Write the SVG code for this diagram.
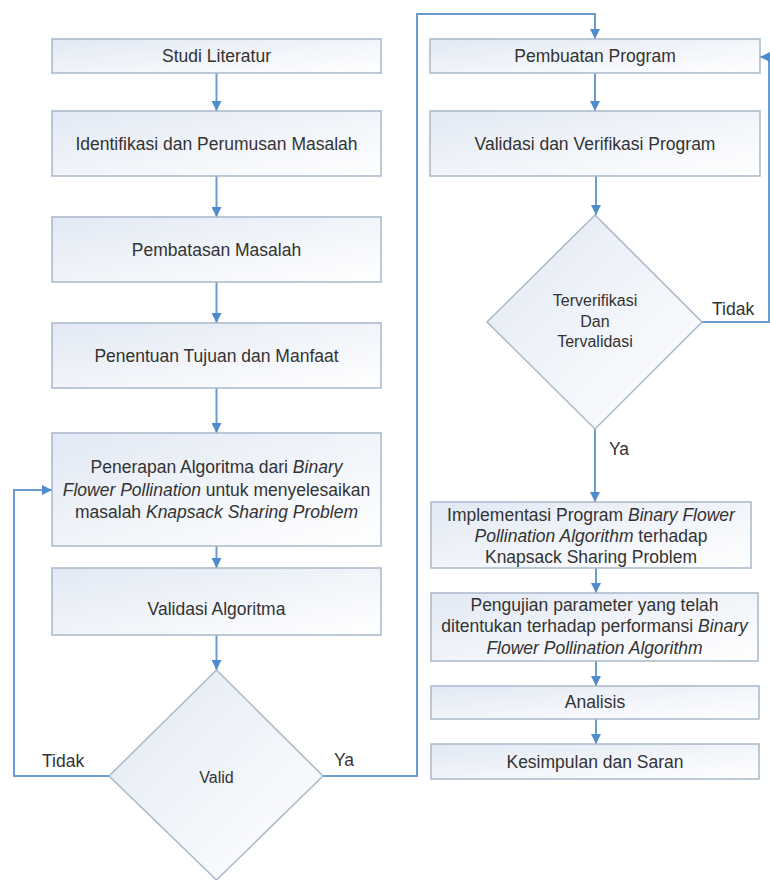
<svg xmlns="http://www.w3.org/2000/svg" width="770" height="880" viewBox="0 0 770 880">
<defs>
<linearGradient id="g" x1="0" y1="0" x2="1" y2="1">
<stop offset="0" stop-color="#e2e9f4"/>
<stop offset="1" stop-color="#ffffff"/>
</linearGradient>
<marker id="ah" viewBox="0 0 10 10" refX="10" refY="5" markerWidth="10" markerHeight="10" markerUnits="userSpaceOnUse" orient="auto">
<path d="M0,0 L10,5 L0,10 Z" fill="#4f8ccb"/>
</marker>
<style>
.box{fill:url(#g);stroke:#a9b8ca;stroke-width:1.5}
.t{font-family:"Liberation Sans",Arial,sans-serif;font-size:17.5px;fill:#333;text-anchor:middle}
.s{font-family:"Liberation Sans",Arial,sans-serif;font-size:16px;fill:#333;text-anchor:middle}
.l{font-family:"Liberation Sans",Arial,sans-serif;font-size:17.5px;fill:#333}
.c{fill:none;stroke:#6a9ccf;stroke-width:2}
.i{font-style:italic}
</style>
</defs>
<rect width="770" height="880" fill="#ffffff"/>
<g id="connectors">
<path class="c" d="M216.5,73 V111" marker-end="url(#ah)"/>
<path class="c" d="M216.5,176 V217" marker-end="url(#ah)"/>
<path class="c" d="M216.5,282 V323" marker-end="url(#ah)"/>
<path class="c" d="M216.5,388 V433" marker-end="url(#ah)"/>
<path class="c" d="M216.5,546 V568" marker-end="url(#ah)"/>
<path class="c" d="M216.5,635 V670" marker-end="url(#ah)"/>
<path class="c" d="M109,776 H14 V490 H52" marker-end="url(#ah)"/>
<path class="c" d="M323,776 H417 V14 H595 V39" marker-end="url(#ah)"/>
<path class="c" d="M595,73 V111" marker-end="url(#ah)"/>
<path class="c" d="M596,176 V215" marker-end="url(#ah)"/>
<path class="c" d="M702,322 H769 V57 H760" marker-end="url(#ah)"/>
<path class="c" d="M595,429 V502" marker-end="url(#ah)"/>
<path class="c" d="M596,568 V593" marker-end="url(#ah)"/>
<path class="c" d="M596,661 V686" marker-end="url(#ah)"/>
<path class="c" d="M596,719 V744" marker-end="url(#ah)"/>
</g>
<g id="n1"><rect class="box" x="52" y="39" width="329" height="34"/><text class="t" x="216.5" y="62">Studi Literatur</text></g>
<g id="n2"><rect class="box" x="52" y="111" width="329" height="65"/><text class="t" x="216.5" y="150">Identifikasi dan Perumusan Masalah</text></g>
<g id="n3"><rect class="box" x="52" y="217" width="329" height="65"/><text class="t" x="216.5" y="256">Pembatasan Masalah</text></g>
<g id="n4"><rect class="box" x="52" y="323" width="329" height="65"/><text class="t" x="216.5" y="362">Penentuan Tujuan dan Manfaat</text></g>
<g id="n5"><rect class="box" x="52" y="433" width="329" height="113"/>
<text class="t" x="216.5" y="473">Penerapan Algoritma dari <tspan class="i">Binary</tspan></text>
<text class="t" x="216.5" y="495.5"><tspan class="i">Flower Pollination</tspan> untuk menyelesaikan</text>
<text class="t" x="216.5" y="518">masalah <tspan class="i">Knapsack Sharing Problem</tspan></text></g>
<g id="n6"><rect class="box" x="52" y="568" width="329" height="67"/><text class="t" x="216.5" y="615">Validasi Algoritma</text></g>
<g id="d1"><path class="box" d="M216.5,670 L323,776 L216.5,880 L109,776 Z"/><text class="s" x="216.5" y="783">Valid</text></g>
<g id="n7"><rect class="box" x="430" y="39" width="330" height="34"/><text class="t" x="595" y="62">Pembuatan Program</text></g>
<g id="n8"><rect class="box" x="430" y="111" width="330" height="65"/><text class="t" x="595" y="150">Validasi dan Verifikasi Program</text></g>
<g id="d2"><path class="box" d="M595,215 L702,322 L595,429 L487,322 Z"/>
<text class="s" x="595" y="306">Terverifikasi</text>
<text class="s" x="595" y="327">Dan</text>
<text class="s" x="595" y="347">Tervalidasi</text></g>
<g id="n9"><rect class="box" x="431" y="502" width="320" height="66"/>
<text class="t" x="591" y="521">Implementasi Program <tspan class="i">Binary Flower</tspan></text>
<text class="t" x="591" y="542"><tspan class="i">Pollination Algorithm</tspan> terhadap</text>
<text class="t" x="591" y="563">Knapsack Sharing Problem</text></g>
<g id="n10"><rect class="box" x="431" y="593" width="327" height="68"/>
<text class="t" x="594.5" y="611">Pengujian parameter yang telah</text>
<text class="t" x="594.5" y="632">ditentukan terhadap performansi <tspan class="i">Binary</tspan></text>
<text class="t" x="594.5" y="654"><tspan class="i">Flower Pollination Algorithm</tspan></text></g>
<g id="n11"><rect class="box" x="431" y="686" width="328" height="33"/><text class="t" x="595" y="708">Analisis</text></g>
<g id="n12"><rect class="box" x="431" y="744" width="328" height="35"/><text class="t" x="595" y="768">Kesimpulan dan Saran</text></g>
<g id="labels">
<text class="l" x="42" y="767">Tidak</text>
<text class="l" x="334" y="766">Ya</text>
<text class="l" x="712" y="315">Tidak</text>
<text class="l" x="609" y="455">Ya</text>
</g>
</svg>
